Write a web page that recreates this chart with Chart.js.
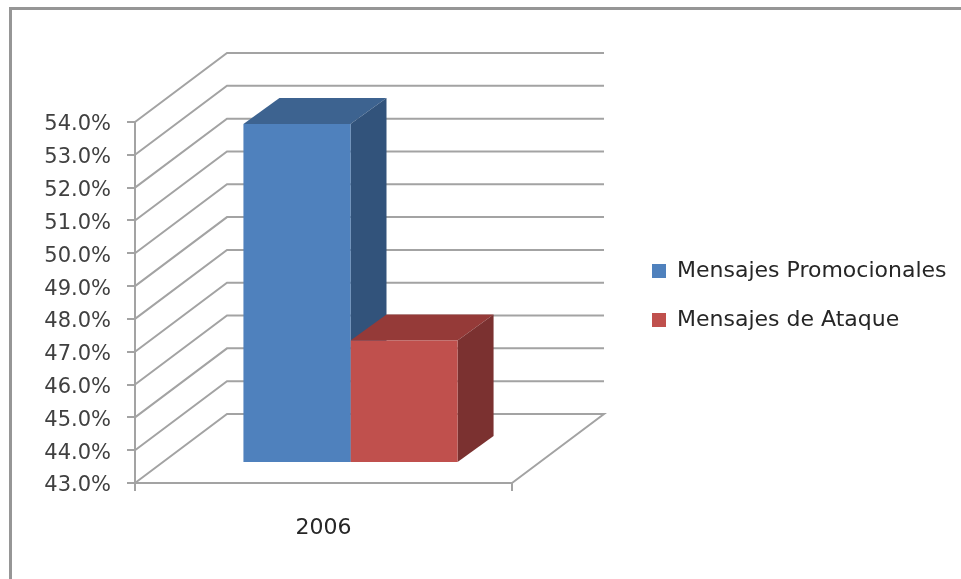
<!DOCTYPE html>
<html lang="es">
<head>
  <meta charset="UTF-8" />
  <title>Mensajes 2006</title>
  <script src="https://cdn.jsdelivr.net/npm/chart.js"></script>
  <style>
    html, body { margin: 0; height: 100%; background: #fff; overflow: hidden; }
    #frame { position: absolute; left: 9px; top: 7px; right: -10px; bottom: -10px; border: 3px solid #969696; }
    canvas { position: absolute; left: 0; top: 0; }
  </style>
</head>
<body>
  <div id="frame"></div>
  <canvas id="chart" width="961" height="579"></canvas>

  <script>
    const categories = ['2006'];
    const promocionales = [53.3];
    const ataque = [46.7];
    const yMin = 43;
    const yMax = 54;

    const gridColor = '#a3a3a3';
    const fontFamily = 'DejaVu Sans';
    const wall = { dx: 92, dy: 69 };      // back wall offset
    const barShift = { dx: 27, dy: 21 };  // bars stand this far into the floor
    const barDepth = { dx: 36, dy: 26 };

    // side and top colours for each series
    const shades = [
      { top: '#3d6390', side: '#32537b' },
      { top: '#953a38', side: '#7b3130' }
    ];

    const fake3d = {
      id: 'fake3d',
      beforeInit(chart) {
        // keep the plot narrow, the legend only takes the space on its right
        const fit = chart.legend.fit;
        chart.legend.fit = function () {
          fit.call(this);
          this.width = 449;
        };
      },
      afterLayout(chart) {
        chart.legend.left = 625;
        chart.legend.top = 233;
      },
      beforeDatasetsDraw(chart) {
        const { ctx, chartArea, scales } = chart;
        ctx.save();
        ctx.strokeStyle = gridColor;
        ctx.lineWidth = 2;
        scales.y.ticks.forEach(t => {
          const y = scales.y.getPixelForValue(t.value);
          ctx.beginPath();
          ctx.moveTo(chartArea.left, y);
          ctx.lineTo(chartArea.left + wall.dx, y - wall.dy);
          ctx.lineTo(chartArea.right + wall.dx, y - wall.dy);
          if (t.value === yMin) ctx.lineTo(chartArea.right, y);
          ctx.stroke();
        });
        ctx.restore();

        // bars are drawn by the library, moved back onto the floor.
        // depth faces go first so the red front covers the blue side
        ctx.save();
        ctx.translate(barShift.dx, -barShift.dy);
        const base = scales.y.getPixelForValue(yMin);
        chart.data.datasets.forEach((ds, i) => {
          chart.getDatasetMeta(i).data.forEach(bar => {
            const { x, y, width } = bar.getProps(['x', 'y', 'width'], true);
            const l = x - width / 2;
            const r = x + width / 2;
            ctx.fillStyle = shades[i].top;
            ctx.beginPath();
            ctx.moveTo(l, y);
            ctx.lineTo(l + barDepth.dx, y - barDepth.dy);
            ctx.lineTo(r + barDepth.dx, y - barDepth.dy);
            ctx.lineTo(r, y);
            ctx.fill();
            ctx.fillStyle = shades[i].side;
            ctx.beginPath();
            ctx.moveTo(r, y);
            ctx.lineTo(r + barDepth.dx, y - barDepth.dy);
            ctx.lineTo(r + barDepth.dx, base - barDepth.dy);
            ctx.lineTo(r, base);
            ctx.fill();
          });
        });
      },
      afterDatasetsDraw(chart) {
        chart.ctx.restore();
      }
    };

    new Chart(document.getElementById('chart'), {
      type: 'bar',
      data: {
        labels: categories,
        datasets: [
          { label: 'Mensajes Promocionales', data: promocionales, backgroundColor: '#4f81bd' },
          { label: 'Mensajes de Ataque', data: ataque, backgroundColor: '#c0504d' }
        ]
      },
      options: {
        responsive: false,
        animation: false,
        layout: { padding: { top: 122 } },
        categoryPercentage: 0.568,
        barPercentage: 1,
        plugins: {
          tooltip: { enabled: false },
          legend: {
            position: 'right',
            align: 'start',
            labels: {
              boxWidth: 14,
              boxHeight: 14,
              padding: 27,
              color: '#262626',
              font: { family: fontFamily, size: 22 }
            }
          }
        },
        scales: {
          x: {
            afterFit: s => { s.height = 96; },
            grid: { drawOnChartArea: false, tickLength: 8, color: gridColor, lineWidth: 2 },
            border: { color: gridColor, width: 2 },
            ticks: { padding: 24, color: '#262626', font: { family: fontFamily, size: 22 } }
          },
          y: {
            min: yMin,
            max: yMax,
            afterFit: s => { s.width = 135; },
            grid: { drawOnChartArea: false, tickLength: 8, color: gridColor, lineWidth: 2 },
            border: { color: gridColor, width: 2 },
            ticks: {
              stepSize: 1,
              padding: 16,
              labelOffset: 3,
              color: '#404040',
              font: { family: fontFamily, size: 21 },
              callback: v => v.toFixed(1) + '%'
            }
          }
        }
      },
      plugins: [fake3d]
    });
  </script>
</body>
</html>
